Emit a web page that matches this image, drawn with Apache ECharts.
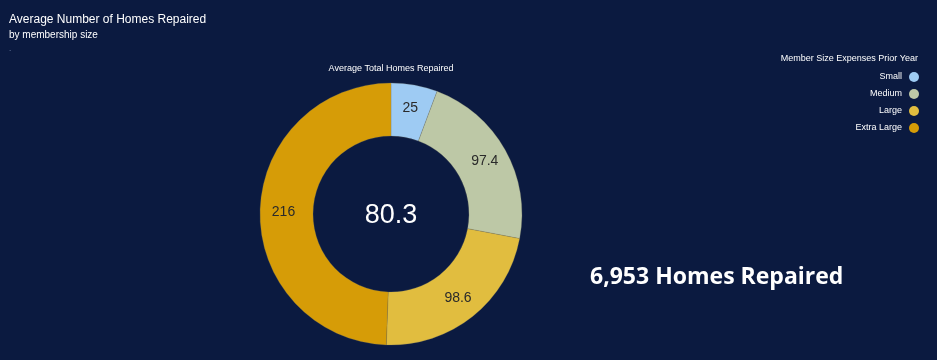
<!DOCTYPE html>
<html>
<head>
<meta charset="utf-8">
<script src="https://cdn.jsdelivr.net/npm/echarts@6/dist/echarts.min.js"></script>
<style>
html,body{margin:0;padding:0;background:#0b1a40;}
#c{width:937px;height:360px;}
</style>
</head>
<body>
<div id="c"></div>
<script>
const categories = ['Small', 'Medium', 'Large', 'Extra Large'];
const values = [25, 97.4, 98.6, 216];
const colors = ['#9ecbf3', '#bdc8a6', '#e1bd3f', '#d69c07'];
const centerValue = '80.3';
const totalText = '6,953 Homes Repaired';

const chart = echarts.init(document.getElementById('c'));
const font = 'Liberation Sans, Arial, sans-serif';
chart.setOption({
  backgroundColor: '#0b1a40',
  animation: false,
  title: [
    { text: 'Average Number of Homes Repaired', left: 4, top: 9,
      textStyle: { color: '#ffffff', fontSize: 12, fontWeight: 'normal', fontFamily: font } },
    { text: 'by membership size', left: 4, top: 25,
      textStyle: { color: '#ffffff', fontSize: 10, fontWeight: 'normal', fontFamily: font } },
    { text: '.', left: 4, top: 40,
      textStyle: { color: '#8899bb', fontSize: 8, fontWeight: 'normal', fontFamily: font } },
    { text: 'Average Total Homes Repaired', left: 386, top: 59, textAlign: 'center',
      textStyle: { color: '#ffffff', fontSize: 9, fontWeight: 'normal', fontFamily: font } },
    { text: 'Member Size Expenses Prior Year', right: 14, top: 49,
      textStyle: { color: '#ffffff', fontSize: 9, fontWeight: 'normal', fontFamily: font } },
    { text: centerValue, left: 386, top: 197, textAlign: 'center',
      textStyle: { color: '#ffffff', fontSize: 27, fontWeight: 'normal', fontFamily: font } },
    { text: totalText, left: 585, top: 261,
      textStyle: { color: '#ffffff', fontSize: 23, fontWeight: 'bold', fontFamily: 'Open Sans, Noto Sans, sans-serif' } }
  ],
  legend: {
    orient: 'vertical',
    right: 13,
    top: 67,
    align: 'right',
    icon: 'circle',
    itemWidth: 10,
    itemHeight: 10,
    itemGap: 7,
    data: categories,
    itemStyle: { borderWidth: 0 },
    textStyle: { color: '#ffffff', fontSize: 9, fontFamily: font, padding: [0, 2, 0, 0] }
  },
  series: [{
    type: 'pie',
    center: [391, 214],
    radius: [78, 131],
    startAngle: 90,
    clockwise: true,
    avoidLabelOverlap: false,
    itemStyle: { borderColor: 'rgba(120,120,100,0.5)', borderWidth: 0.5 },
    label: {
      show: true,
      position: 'inside',
      color: '#2a2a2a',
      fontSize: 14,
      fontFamily: font,
      formatter: p => String(p.value)
    },
    labelLine: { show: false },
    data: categories.map((c, i) => ({ name: c, value: values[i], itemStyle: { color: colors[i] } }))
  }]
});
</script>
</body>
</html>
